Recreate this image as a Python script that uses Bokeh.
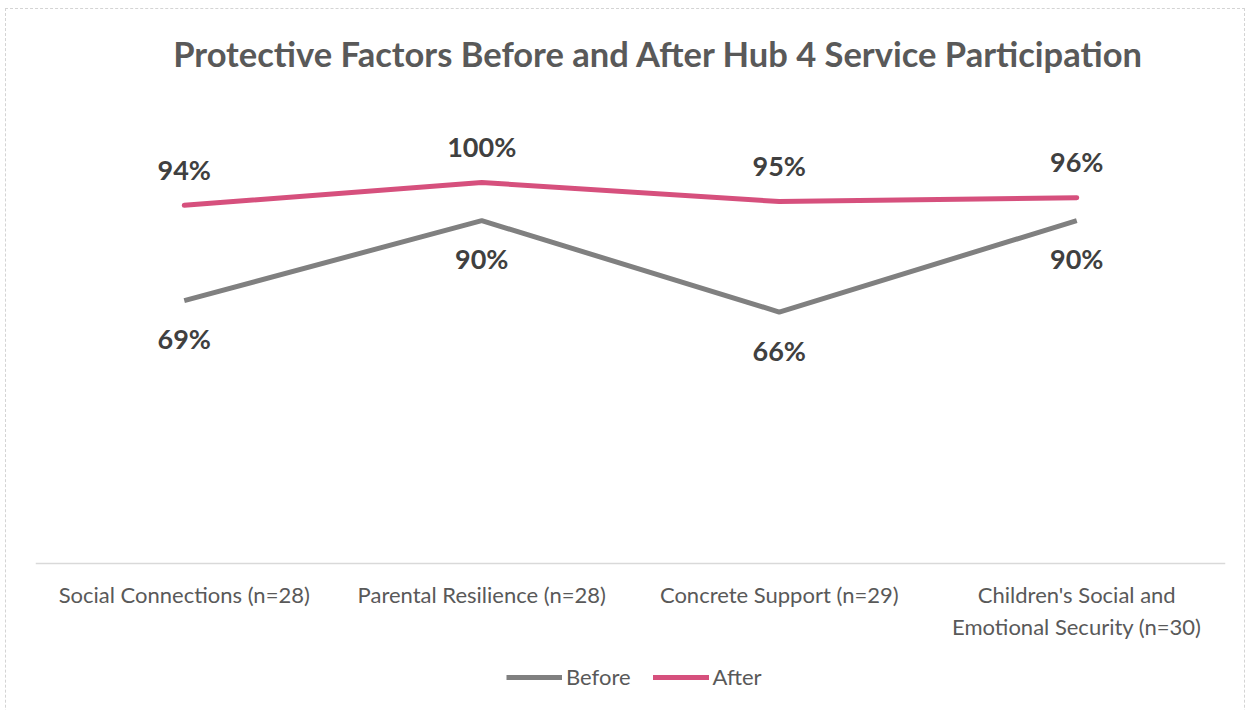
from bokeh.plotting import figure
from bokeh.models import Range1d, FactorRange, Legend, LegendItem, ColumnDataSource, Label
from bokeh.core.properties import value
from bokeh.embed import file_html
from bokeh.resources import INLINE

categories = ["Social Connections (n=28)", "Parental Resilience (n=28)",
              "Concrete Support (n=29)", "Children's Social and\nEmotional Security (n=30)"]
before = [0.69, 0.90, 0.66, 0.90]
after = [0.94, 1.00, 0.95, 0.96]
series_names = ["Before", "After"]
title_text = "Protective Factors Before and After Hub 4 Service Participation"

FONT = "Lato"
# layout (pixels inside the canvas)
FRAME_H = 720
AXIS_Y = 554          # canvas y of the value 0
PX_PER_UNIT = 381     # pixels for 100%
y_top = AXIS_Y / PX_PER_UNIT
y_bottom = -(FRAME_H - AXIS_Y) / PX_PER_UNIT

p = figure(width=1240, height=FRAME_H + 100, output_backend="svg", toolbar_location=None,
           x_range=FactorRange(*categories, range_padding=0), y_range=Range1d(y_bottom, y_top),
           min_border_left=29, min_border_right=21, min_border_top=0, min_border_bottom=100,
           styles={"margin-left": "5px", "margin-top": "8px", "border": "1px dashed #d4d4d4"})
p.title.text = ""
p.outline_line_color = None
p.grid.visible = False
p.yaxis.visible = False
ax = p.xaxis[0]
ax.fixed_location = 0
ax.axis_line_color = "#d9d9d9"
ax.axis_line_width = 1.5
ax.major_tick_line_color = None
ax.minor_tick_line_color = None
ax.major_label_standoff = 11
ax.major_label_text_font = FONT
ax.major_label_text_font_size = "22px"
ax.major_label_text_color = "#595959"
ax.major_label_text_line_height = 1.2

src = ColumnDataSource(dict(x=categories, before=before, after=after,
                            blab=[f"{round(v*100)}%" for v in before],
                            alab=[f"{round(v*100)}%" for v in after]))
r_before = p.line("x", "before", source=src, line_color="#808080", line_width=5)
r_after = p.line("x", "after", source=src, line_color="#D6507D", line_width=5, line_cap="round")

p.text("x", "before", text="blab", source=src, y_offset=38, text_align="center",
       text_baseline="middle", text_font=value(FONT), text_font_style="bold",
       text_font_size="27px", text_color="#404040")
p.text("x", "after", text="alab", source=src, y_offset=-36, text_align="center",
       text_baseline="middle", text_font=value(FONT), text_font_style="bold",
       text_font_size="27px", text_color="#404040")

p.add_layout(Label(x=623, y=FRAME_H - 44, x_units="screen", y_units="screen", text=title_text,
                   text_align="center", text_baseline="middle", text_font=FONT,
                   text_font_style="bold", text_font_size="34.5px", text_color="#595959"))

legend = Legend(items=[LegendItem(label=series_names[0], renderers=[r_before]),
                       LegendItem(label=series_names[1], renderers=[r_after])],
                orientation="horizontal", location=(471, FRAME_H - 681),
                glyph_width=56, glyph_height=20, label_standoff=4, spacing=22,
                padding=0, margin=0, border_line_alpha=0, background_fill_alpha=0,
                label_text_font=FONT, label_text_font_size="22px", label_text_color="#595959")
p.add_layout(legend, "center")

open("out.html", "w").write(file_html(p, INLINE))
